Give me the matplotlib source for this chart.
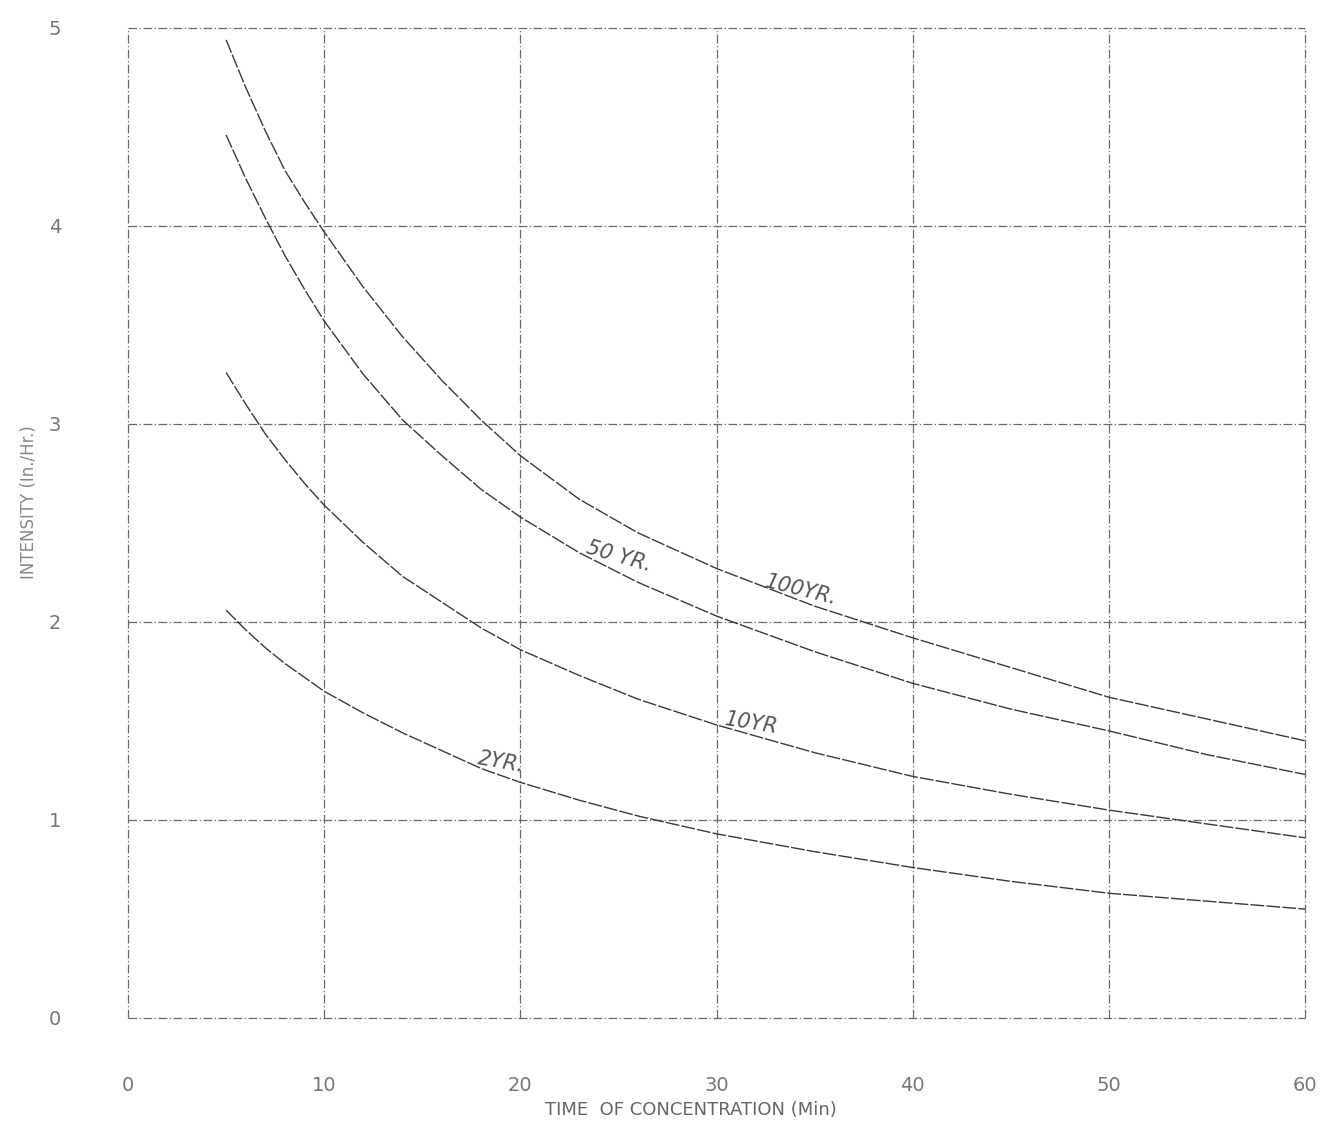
import matplotlib
matplotlib.use("Agg")
import matplotlib.pyplot as plt

# Data
time_min = [5, 6, 7, 8, 9, 10, 12, 14, 16, 18, 20, 23, 26, 30, 35, 40, 45, 50, 55, 60]
yr100 = [4.94, 4.70, 4.48, 4.28, 4.12, 3.97, 3.69, 3.44, 3.22, 3.02, 2.84, 2.62, 2.45,
         2.27, 2.08, 1.92, 1.77, 1.62, 1.51, 1.40]
yr50 = [4.46, 4.24, 4.04, 3.85, 3.68, 3.52, 3.25, 3.02, 2.84, 2.67, 2.53, 2.35, 2.20,
        2.03, 1.85, 1.69, 1.56, 1.45, 1.33, 1.23]
yr10 = [3.26, 3.10, 2.95, 2.82, 2.70, 2.59, 2.40, 2.23, 2.10, 1.97, 1.86, 1.73, 1.61,
        1.48, 1.34, 1.22, 1.13, 1.05, 0.98, 0.91]
yr2 = [2.06, 1.96, 1.87, 1.79, 1.72, 1.65, 1.54, 1.44, 1.35, 1.26, 1.19, 1.10, 1.02,
       0.93, 0.84, 0.76, 0.69, 0.63, 0.59, 0.55]

x_ticks = [0, 10, 20, 30, 40, 50, 60]
y_ticks = [0, 1, 2, 3, 4, 5]

labels = ["100YR.", "50 YR.", "10YR", "2YR."]
label_pos = [(34.3, 2.16), (25.0, 2.33), (31.8, 1.49), (19.0, 1.29)]
label_rot = [-14, -16, -9, -10]

fig = plt.figure(figsize=(13.28, 11.42), dpi=100)
ax = fig.add_axes([0.0964, 0.1086, 0.8863, 0.8669])
ax.set_xlim(0, 60)
ax.set_ylim(0, 5)

for s in ax.spines.values():
    s.set_visible(False)

gstyle = dict(color="#6a6a6a", lw=0.9, linestyle=(0, (7, 2, 1, 2)), clip_on=False)
for xv in x_ticks:
    ax.axvline(xv, **gstyle)
for yv in y_ticks:
    ax.axhline(yv, **gstyle)

for series in (yr100, yr50, yr10, yr2):
    ax.plot(time_min, series, color="#3a3a3a", lw=1.0, linestyle=(0, (10, 1.5)))

for txt, (lx, ly), rot in zip(labels, label_pos, label_rot):
    ax.text(lx, ly, txt, fontsize=15, color="#555555", rotation=rot,
            ha="center", va="center", style="italic")

ax.set_xticks(x_ticks)
ax.set_yticks(y_ticks)
ax.tick_params(length=0, labelsize=14, labelcolor="#777777")
ax.tick_params(axis="x", pad=42)
ax.tick_params(axis="y", pad=48)

fig.text(0.52, 0.028, "TIME  OF CONCENTRATION (Min)", ha="center", va="center",
         fontsize=13, color="#666666")
fig.text(0.022, 0.56, "INTENSITY (In./Hr.)", ha="center", va="center",
         fontsize=12, color="#888888", rotation=90)

fig.savefig("out.png", dpi=100, facecolor="white")
